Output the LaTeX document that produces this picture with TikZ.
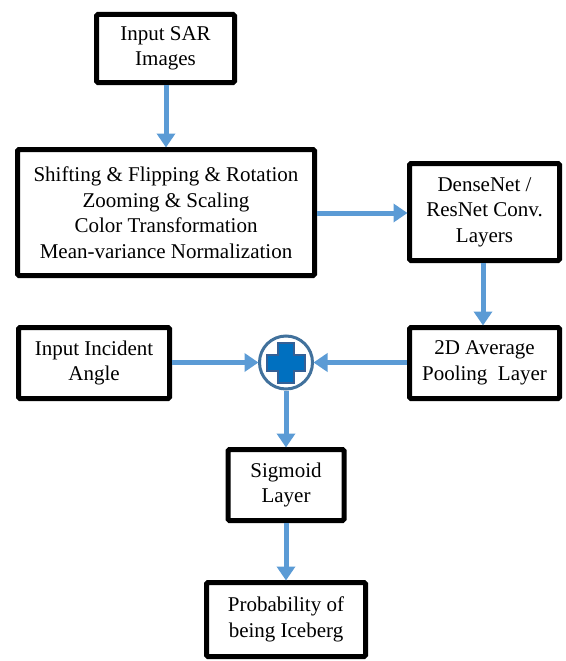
\documentclass[tikz,border=0pt]{standalone}
\usepackage{fontspec}
\setmainfont{LiberationSerif}[Extension=.ttf, UprightFont=*-Regular, BoldFont=*-Bold]
\usetikzlibrary{arrows.meta}
\definecolor{arrowblue}{RGB}{91,155,213}
\definecolor{ringblue}{RGB}{65,113,156}
\definecolor{plusfill}{RGB}{0,112,192}
\definecolor{plusedge}{RGB}{52,96,150}
\tikzset{
  stagebox/.style={draw=black, line width=5pt, rounded corners=1.5pt, fill=white,
    align=center, inner sep=0pt, font=\fontsize{21}{25.5}\selectfont},
  flow/.style={draw=arrowblue, line width=5pt,
    -{Triangle[width=18pt,length=14pt]}, shorten >=-0.5pt},
}
\begin{document}
\begin{tikzpicture}[x=1pt,y=-1pt]
\useasboundingbox (0,0) rectangle (565,661);

\node[stagebox, minimum width=138pt, minimum height=68pt] (sar) at (165.5,48.5)
  {Input SAR\\Images};
\node[stagebox, minimum width=297pt, minimum height=126pt] (aug) at (166,212.5)
  {Shifting \& Flipping \& Rotation\\Zooming \& Scaling\\Color Transformation\\Mean-variance Normalization};
\node[stagebox, minimum width=150pt, minimum height=97pt] (conv) at (484.5,212)
  {DenseNet /\\ResNet Conv.\\Layers};
\node[stagebox, minimum width=151pt, minimum height=71pt] (angle) at (94,363)
  {Input Incident\\Angle};
\node[stagebox, minimum width=150pt, minimum height=71pt] (pool) at (484.5,363)
  {2D Average\\Pooling~ Layer};
\node[stagebox, minimum width=116pt, minimum height=71pt] (sig) at (286,485)
  {Sigmoid\\Layer};
\node[stagebox, minimum width=159pt, minimum height=74pt] (prob) at (286,619.5)
  {Probability of\\being Iceberg};

% concatenation symbol
\node[circle, draw=ringblue, line width=3pt, minimum size=53pt, inner sep=0pt] (plus) at (286,362.5) {};
\fill[plusfill, draw=plusedge, line width=2.5pt]
  (278,343) -- (294,343) -- (294,355) -- (305,355) -- (305,371) -- (294,371)
  -- (294,383) -- (278,383) -- (278,371) -- (267,371) -- (267,355) -- (278,355) -- cycle;

% connectors
\draw[flow] (sar.south -| 166,0) -- (aug.north -| 166,0);
\draw[flow] (aug.east |- 0,213) -- (conv.west |- 0,213);
\draw[flow] (conv.south -| 483,0) -- (pool.north -| 483,0);
\draw[flow] (angle.east |- 0,362.5) -- (plus.west);
\draw[flow] (pool.west |- 0,362.5) -- (plus.east);
\draw[flow] (plus.south) -- (sig.north);
\draw[flow] (sig.south) -- (prob.north);
\end{tikzpicture}
\end{document}
